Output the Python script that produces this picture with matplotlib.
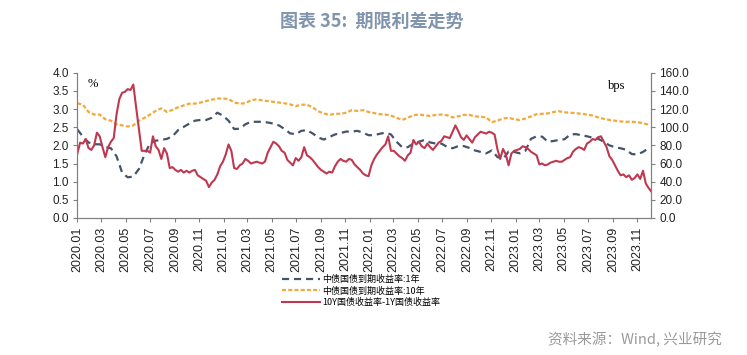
import matplotlib
matplotlib.use("Agg")
import matplotlib.pyplot as plt
import matplotlib.dates as mdates
from matplotlib.ticker import MultipleLocator, FormatStrFormatter
import pandas as pd

# 10Y - 1Y spread, bps, weekly from 2020-01-01
spread_bps = [
    71, 83, 82, 87, 77, 75, 80, 94, 90, 78, 67, 78, 84, 88, 114, 131, 138, 139, 142, 141,
    147, 122, 98, 74, 74, 74, 72, 90, 79, 75, 65, 77, 71, 55, 56, 53, 51, 53, 50, 52,
    50, 52, 53, 47, 45, 43, 41, 34, 39, 42, 48, 57, 62, 70, 81, 74, 55, 54, 58, 60,
    65, 63, 60, 61, 62, 61, 60, 62, 72, 78, 84, 82, 79, 74, 72, 64, 61, 58, 66, 63,
    67, 78, 69, 67, 64, 60, 56, 53, 51, 49, 51, 50, 57, 62, 65, 63, 62, 65, 64, 59,
    56, 53, 49, 47, 46, 58, 65, 70, 74, 78, 81, 90, 74, 74, 71, 68, 66, 63, 69, 72,
    86, 81, 84, 79, 77, 82, 78, 75, 79, 83, 85, 90, 89, 88, 95, 102, 96, 89, 86, 91,
    87, 83, 89, 92, 95, 94, 93, 95, 94, 92, 76, 65, 76, 70, 58, 71, 74, 75, 76, 79,
    78, 76, 73, 71, 69, 59, 60, 58, 59, 61, 62, 63, 62, 62, 64, 66, 67, 73, 76, 78,
    77, 75, 82, 84, 87, 86, 89, 90, 84, 78, 68, 64, 58, 52, 47, 48, 45, 47, 42, 44,
    48, 43, 52, 38, 33, 29,
]

# ChinaBond treasury yields, %, every two weeks
yield_1y = [
    2.44, 2.24, 2.08, 2.03, 2.03, 1.95, 1.92, 1.70, 1.25, 1.12, 1.14, 1.35, 1.75, 2.06, 2.13,
    2.15, 2.18, 2.25, 2.42, 2.51, 2.60, 2.68, 2.70, 2.70, 2.76, 2.90,
    2.82, 2.68, 2.45, 2.46, 2.58, 2.65, 2.65, 2.65, 2.63, 2.60, 2.55, 2.45, 2.33, 2.31, 2.40,
    2.42, 2.33, 2.22, 2.16, 2.23, 2.30, 2.34, 2.38, 2.38, 2.40,
    2.35, 2.28, 2.28, 2.32, 2.35, 2.30, 2.10, 1.95, 1.95, 2.05, 2.10, 2.15, 2.08, 2.05, 2.05,
    1.96, 1.92, 1.98, 1.98, 1.93, 1.86, 1.82, 1.78, 1.86, 1.68, 1.62, 1.83,
    1.82, 1.78, 1.85, 2.18, 2.25, 2.24, 2.10, 2.12, 2.15, 2.17, 2.30, 2.31, 2.28, 2.25, 2.21,
    2.18, 2.10, 2.00, 1.95, 1.92, 1.88, 1.76, 1.75, 1.82, 1.92,
]
yield_10y = [
    3.16, 3.12, 2.92, 2.85, 2.85, 2.72, 2.68, 2.58, 2.55, 2.52, 2.55, 2.68, 2.76, 2.85, 2.95,
    3.02, 2.92, 2.98, 3.05, 3.10, 3.15, 3.15, 3.18, 3.22, 3.26, 3.29,
    3.29, 3.28, 3.18, 3.15, 3.16, 3.24, 3.27, 3.24, 3.22, 3.20, 3.18, 3.16, 3.13, 3.08, 3.12,
    3.12, 3.05, 2.94, 2.88, 2.84, 2.87, 2.87, 2.90, 2.97, 2.95,
    2.97, 2.92, 2.89, 2.86, 2.85, 2.82, 2.76, 2.70, 2.76, 2.83, 2.85, 2.83, 2.81, 2.84, 2.85,
    2.83, 2.77, 2.80, 2.84, 2.84, 2.80, 2.79, 2.77, 2.64, 2.68, 2.74, 2.76,
    2.72, 2.70, 2.74, 2.80, 2.86, 2.87, 2.88, 2.92, 2.94, 2.91, 2.90, 2.89, 2.87, 2.85, 2.82,
    2.77, 2.73, 2.70, 2.68, 2.66, 2.65, 2.65, 2.64, 2.61, 2.57,
]

labels = ["中债国债到期收益率:1年", "中债国债到期收益率:10年", "10Y国债收益率-1Y国债收益率"]

weeks = pd.date_range("2020-01-01", periods=len(spread_bps), freq="7D")
biweeks = weeks[::2]

plt.rcParams['font.family'] = ['Noto Sans CJK SC', 'DejaVu Sans']

fig = plt.figure(figsize=(7.47, 3.55), dpi=100)
ax = fig.add_axes([0.1035, 0.386, 0.768, 0.409])
ax2 = ax.twinx()

l1, = ax.plot(biweeks, yield_1y, color='#44546A', lw=1.6, dashes=(3.2, 2.2), label=labels[0])
l2, = ax.plot(biweeks, yield_10y, color='#F2A93B', lw=1.6, dashes=(1.8, 1.0), label=labels[1])
l3, = ax2.plot(weeks, spread_bps, color='#C0384F', lw=1.5, label=labels[2])

ax.set_xlim(pd.Timestamp("2020-01-01"), pd.Timestamp("2023-12-05"))
ax.set_ylim(0, 4)
ax2.set_ylim(0, 160)
ax.yaxis.set_major_locator(MultipleLocator(0.5))
ax.yaxis.set_major_formatter(FormatStrFormatter('%.1f'))
ax2.yaxis.set_major_locator(MultipleLocator(20))
ax2.yaxis.set_major_formatter(FormatStrFormatter('%.1f'))
ax.xaxis.set_major_locator(mdates.MonthLocator(bymonth=[1, 3, 5, 7, 9, 11]))
ax.xaxis.set_major_formatter(mdates.DateFormatter('%Y.%m'))

spine_col = '#808080'
for a in (ax, ax2):
    a.spines['top'].set_visible(False)
    for s in ('left', 'right', 'bottom'):
        a.spines[s].set_color(spine_col)
    a.tick_params(colors=spine_col, length=3, width=0.8)
for lab in ax.get_yticklabels() + ax2.get_yticklabels():
    lab.set_family('Liberation Sans')
    lab.set_fontsize(8.5)
    lab.set_color('#222222')
for lab in ax.get_xticklabels():
    lab.set_family('Liberation Sans')
    lab.set_fontsize(9)
    lab.set_rotation(90)
    lab.set_color('#222222')
ax.tick_params(axis='x', pad=3)
ax.tick_params(axis='y', pad=3)
ax2.tick_params(axis='y', pad=3)

ax.text(0.027, 0.922, '%', transform=ax.transAxes, ha='center', va='center',
        fontsize=9, family='Liberation Serif')
ax.text(0.941, 0.912, 'bps', transform=ax.transAxes, ha='center', va='center',
        fontsize=9, family='Liberation Serif')

fig.legend(handles=[l1, l2, l3], loc='upper left', bbox_to_anchor=(0.377, 0.226),
           frameon=False, fontsize=6.5, handlelength=4.2, handletextpad=0.3,
           labelspacing=0.25, borderpad=0, borderaxespad=0)

fig.text(0.497, 0.939, '图表 35:  期限利差走势', ha='center', va='center',
         fontsize=13, fontweight='bold', color='#8094AD')
fig.text(0.9665, 0.042, '资料来源：Wind, 兴业研究', ha='right', va='center',
         fontsize=10.5, color='#9A9A9A')

fig.savefig('out.png', dpi=100)
